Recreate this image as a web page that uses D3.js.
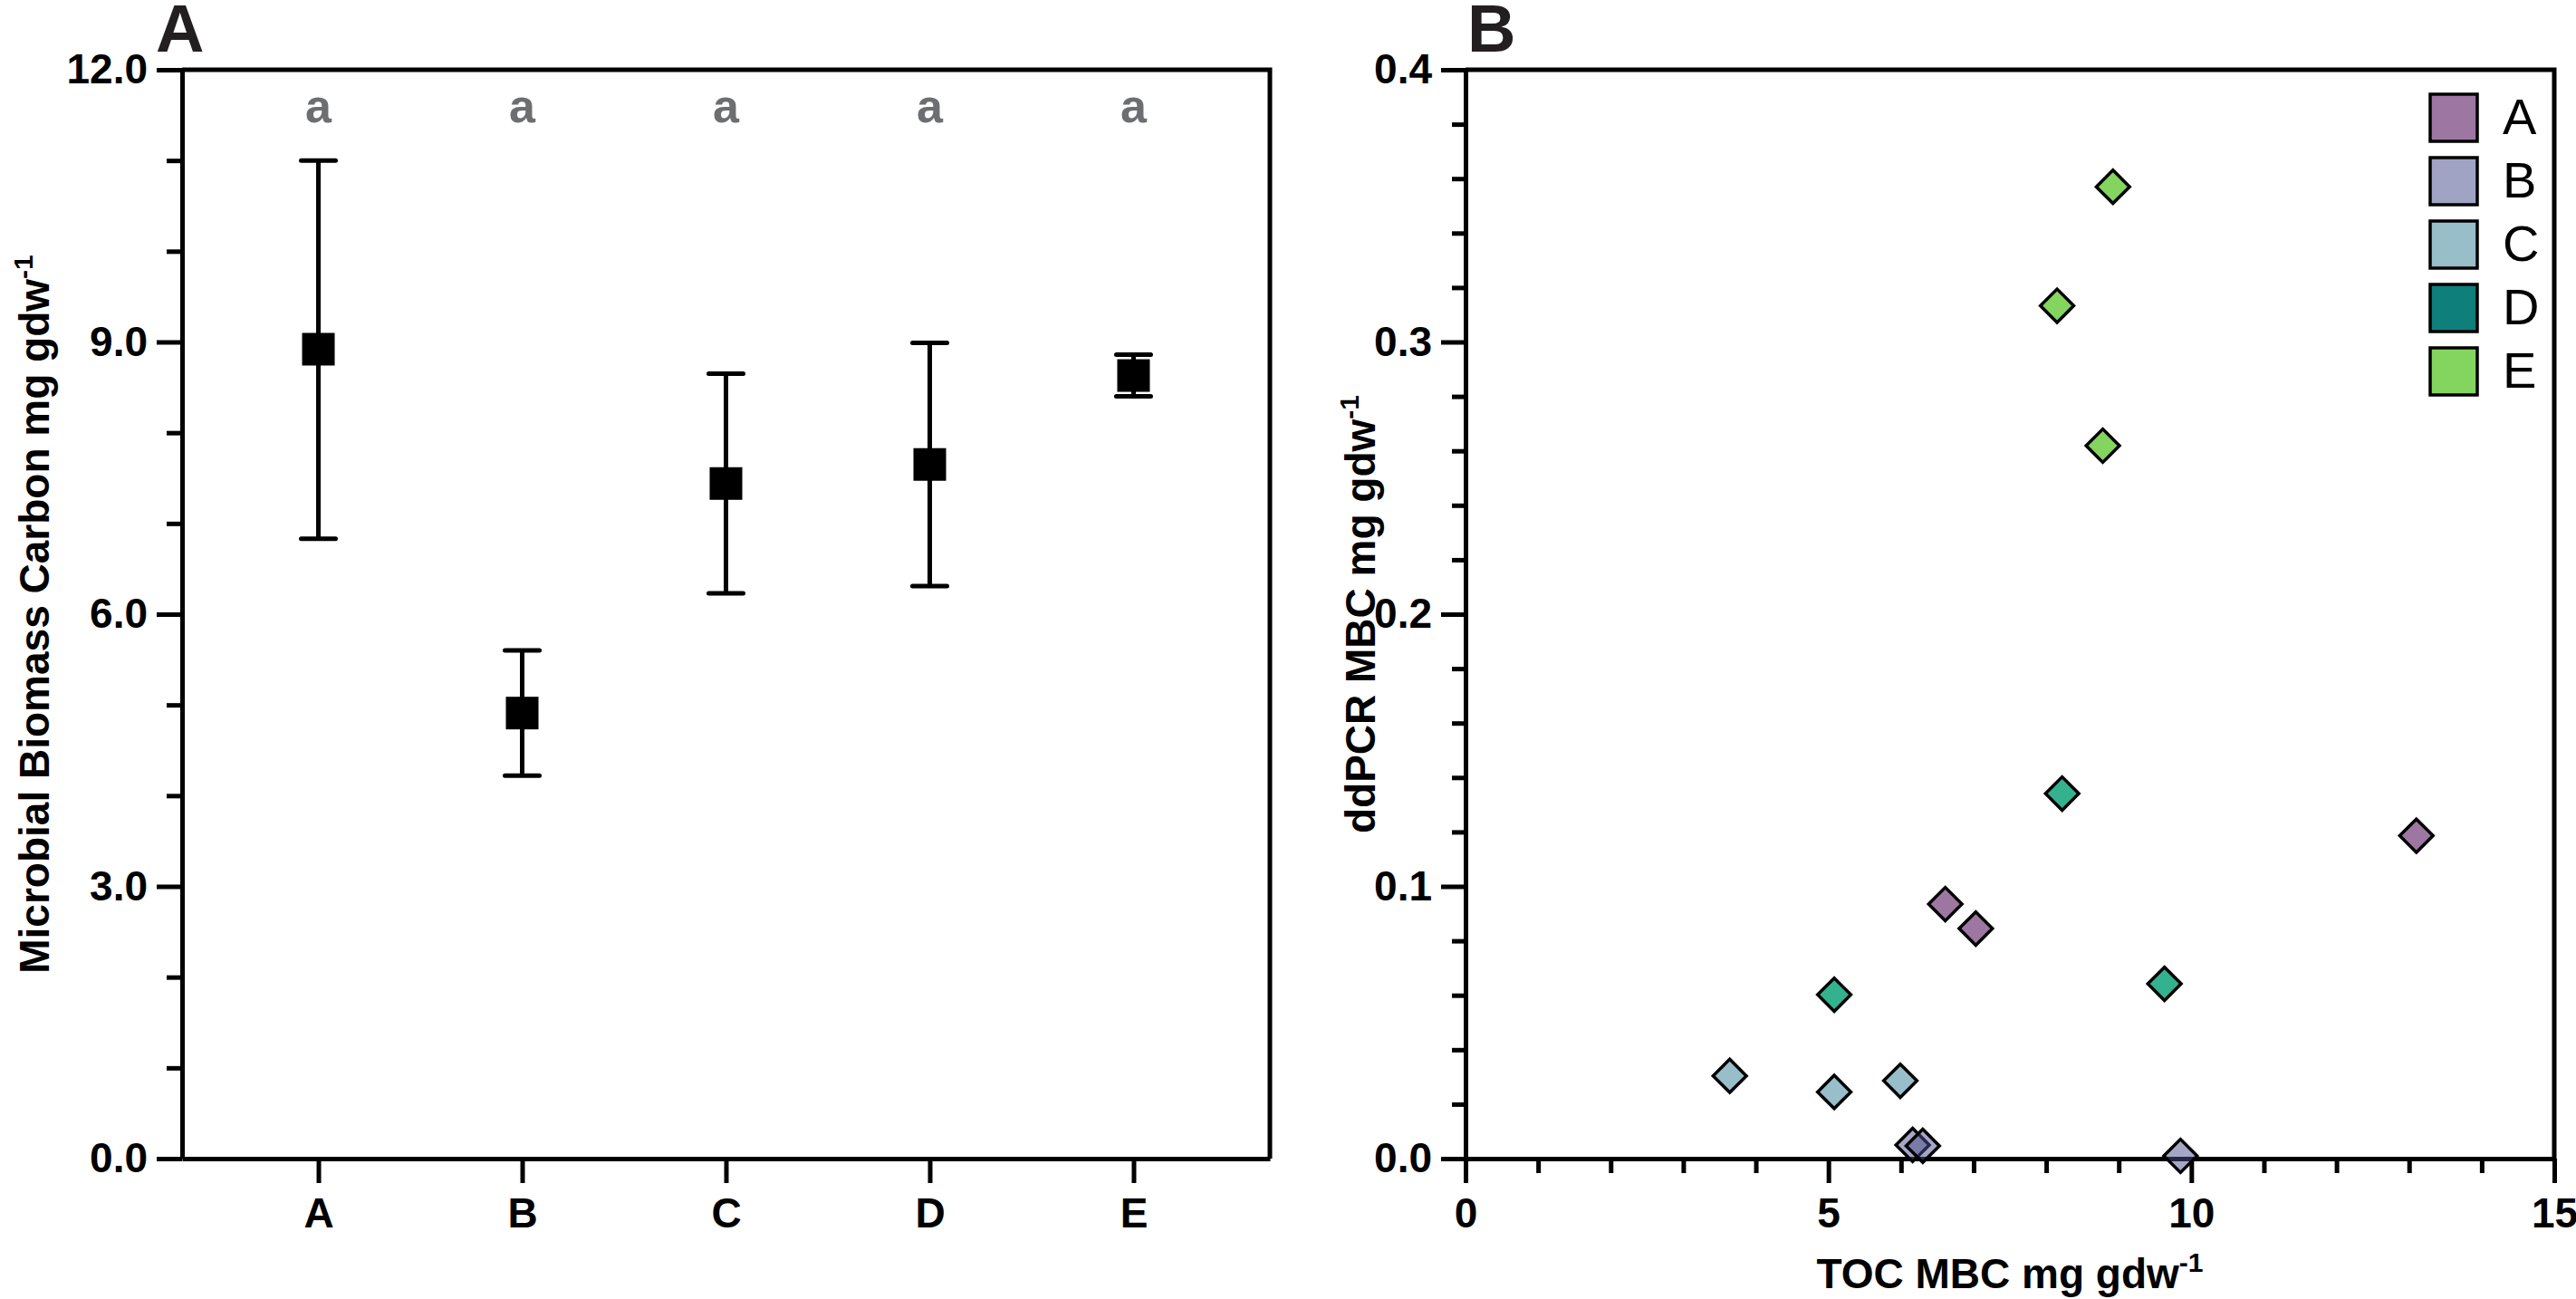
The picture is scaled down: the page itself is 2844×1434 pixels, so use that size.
<!DOCTYPE html>
<html lang="en">
<head>
	<title>Microbial Biomass Carbon</title>
	<script src="https://d3js.org/d3.v7.min.js" charset="utf-8"></script>
	<style>
		body {
		    margin: 0;
		    background: #fff;
		    font-family: "Liberation Sans", Arial, Helvetica, sans-serif;
		}
		.axis path, .axis line {
		    stroke: #000;
		    stroke-width: 5;
		}
		.axis text {
		    font-size: 46px;
		    font-weight: bold;
		    fill: #000;
		    font-family: "Liberation Sans", Arial, sans-serif;
		}
		.title {
		    font-size: 46px;
		    font-weight: bold;
		}
		.panel {
		    font-size: 74px;
		    font-weight: bold;
		    fill: #231f20;
		}
	</style>
</head>
<body>
	<script>
		// Panel A: mean and error bar limits per site
		var sites = ["A", "B", "C", "D", "E"];
		var mbcMean = [8.92, 4.91, 7.44, 7.65, 8.63];
		var mbcHigh = [11.0, 5.60, 8.65, 8.99, 8.86];
		var mbcLow  = [6.83, 4.22, 6.23, 6.31, 8.40];
		var letters = ["a", "a", "a", "a", "a"];
		var yTicksA = [0, 3, 6, 9, 12];

		// Panel B: TOC MBC (x) vs ddPCR MBC (y), by site
		var pointSite = ["A", "A", "A", "B", "B", "B", "C", "C", "C", "D", "D", "D", "E", "E", "E"];
		var tocMBC    = [6.61, 7.03, 13.10, 6.16, 6.30, 9.85, 3.64, 5.08, 5.99, 8.22, 5.08, 9.63, 8.92, 8.15, 8.78];
		var ddpcrMBC  = [0.0935, 0.0845, 0.1186, 0.0050, 0.0047, 0.0010, 0.0304, 0.0245, 0.0286, 0.1341, 0.0602, 0.0642, 0.357, 0.3133, 0.2619];
		var xTicksB = [0, 5, 10, 15];
		var yTicksB = [0, 0.1, 0.2, 0.3, 0.4];

		var legendColor = {A: "#9d77a2", B: "#a0a3c4", C: "#98bec9", D: "#0e7f7b", E: "#84d55f"};
		var pointColor  = {A: "#9d77a2", B: "#4b508c", C: "#98bec9", D: "#34b28f", E: "#84d55f"};
		var pointOpacity = {A: 1, B: 0.5, C: 1, D: 1, E: 1};

		var width = 2844;
		var height = 1434;

		var svg = d3.select("body")
		    .append("svg")
		    .attr("width", width)
		    .attr("height", height);

		var plotTop = 77, plotBottom = 1279;

		// ---------- Panel A ----------
		var ax0 = 201, ax1 = 1402;

		var xA = d3.scalePoint()
		    .domain(sites)
		    .range([ax0, ax1])
		    .padding(0.669);

		var yA = d3.scaleLinear()
		    .domain([0, 12])
		    .range([plotBottom, plotTop]);

		var gA = svg.append("g");

		// minor ticks
		gA.append("g")
		    .attr("class", "axis")
		    .attr("transform", "translate(" + ax0 + ",0)")
		    .call(d3.axisLeft(yA).tickValues(d3.range(1, 12).filter(function(v){ return v % 3 != 0; })).tickSize(17).tickFormat(""))
		    .select(".domain").remove();

		gA.append("g")
		    .attr("class", "axis")
		    .attr("transform", "translate(" + ax0 + ",0)")
		    .call(d3.axisLeft(yA).tickValues(yTicksA).tickSize(28).tickPadding(10).tickSizeOuter(0).tickFormat(d3.format(".1f")));

		gA.append("g")
		    .attr("class", "axis")
		    .attr("transform", "translate(0," + plotBottom + ")")
		    .call(d3.axisBottom(xA).tickSize(27).tickPadding(16).tickSizeOuter(0));

		// frame top + right
		gA.append("path")
		    .attr("d", "M" + ax0 + "," + plotTop + "H" + ax1 + "V" + plotBottom)
		    .attr("fill", "none")
		    .attr("stroke", "#000")
		    .attr("stroke-width", 5);

		// error bars
		var capW = 38;
		gA.selectAll(".err")
		    .data(sites)
		    .enter()
		    .append("path")
		    .attr("class", "err")
		    .attr("d", function(d, i) {
		        var x = xA(d);
		        return "M" + x + "," + yA(mbcLow[i]) + "V" + yA(mbcHigh[i]) +
		            "M" + (x - capW / 2) + "," + yA(mbcHigh[i]) + "H" + (x + capW / 2) +
		            "M" + (x - capW / 2) + "," + yA(mbcLow[i]) + "H" + (x + capW / 2);
		    })
		    .attr("fill", "none")
		    .attr("stroke", "#000")
		    .attr("stroke-width", 5)
		    .attr("stroke-linecap", "round");

		var sq = 36;
		gA.selectAll(".mean")
		    .data(sites)
		    .enter()
		    .append("rect")
		    .attr("class", "mean")
		    .attr("x", function(d) { return xA(d) - sq / 2; })
		    .attr("y", function(d, i) { return yA(mbcMean[i]) - sq / 2; })
		    .attr("width", sq)
		    .attr("height", sq)
		    .attr("fill", "#000");

		gA.selectAll(".letter")
		    .data(sites)
		    .enter()
		    .append("text")
		    .attr("class", "letter")
		    .attr("x", function(d) { return xA(d); })
		    .attr("y", 135)
		    .attr("text-anchor", "middle")
		    .attr("font-size", 52)
		    .attr("font-weight", "bold")
		    .attr("fill", "#6d6e71")
		    .text(function(d, i) { return letters[i]; });

		var titleA = gA.append("text")
		    .attr("class", "title")
		    .attr("transform", "translate(54," + ((plotTop + plotBottom) / 2) + ") rotate(-90)")
		    .attr("text-anchor", "middle");
		titleA.append("tspan").text("Microbial Biomass Carbon mg gdw");
		titleA.append("tspan").attr("font-size", 30).attr("dy", -18).text("-1");

		gA.append("text")
		    .attr("class", "panel")
		    .attr("x", 172)
		    .attr("y", 57)
		    .text("A");

		// ---------- Panel B ----------
		var bx0 = 1618, bx1 = 2820;

		var xB = d3.scaleLinear()
		    .domain([0, 15])
		    .range([bx0, bx1]);

		var yB = d3.scaleLinear()
		    .domain([0, 0.4])
		    .range([plotBottom, plotTop]);

		var gB = svg.append("g");

		gB.append("g")
		    .attr("class", "axis")
		    .attr("transform", "translate(" + bx0 + ",0)")
		    .call(d3.axisLeft(yB).tickValues(d3.range(1, 20).filter(function(v){ return v % 5 != 0; }).map(function(v){ return v * 0.02; })).tickSize(15).tickFormat(""))
		    .select(".domain").remove();

		gB.append("g")
		    .attr("class", "axis")
		    .attr("transform", "translate(0," + plotBottom + ")")
		    .call(d3.axisBottom(xB).tickValues(d3.range(1, 15).filter(function(v){ return v % 5 != 0; })).tickSize(16).tickFormat(""))
		    .select(".domain").remove();

		gB.append("g")
		    .attr("class", "axis")
		    .attr("transform", "translate(" + bx0 + ",0)")
		    .call(d3.axisLeft(yB).tickValues(yTicksB).tickSize(27).tickPadding(10).tickSizeOuter(0).tickFormat(d3.format(".1f")));

		gB.append("g")
		    .attr("class", "axis")
		    .attr("transform", "translate(0," + plotBottom + ")")
		    .call(d3.axisBottom(xB).tickValues(xTicksB).tickSize(27).tickPadding(16).tickSizeOuter(0).tickFormat(d3.format("d")));

		gB.append("path")
		    .attr("d", "M" + bx0 + "," + plotTop + "H" + bx1 + "V" + plotBottom)
		    .attr("fill", "none")
		    .attr("stroke", "#000")
		    .attr("stroke-width", 5);

		var diamond = d3.symbol().type(d3.symbolSquare).size(26 * 26);

		gB.selectAll(".pt")
		    .data(tocMBC)
		    .enter()
		    .append("path")
		    .attr("class", "pt")
		    .attr("d", diamond)
		    .attr("transform", function(d, i) {
		        return "translate(" + xB(d) + "," + yB(ddpcrMBC[i]) + ") rotate(45)";
		    })
		    .attr("fill", function(d, i) { return pointColor[pointSite[i]]; })
		    .attr("fill-opacity", function(d, i) { return pointOpacity[pointSite[i]]; })
		    .attr("stroke", "#000")
		    .attr("stroke-width", 3.5);

		// legend
		var legend = gB.selectAll(".leg")
		    .data(sites)
		    .enter()
		    .append("g")
		    .attr("class", "leg")
		    .attr("transform", function(d, i) { return "translate(2683," + (104 + i * 70) + ")"; });

		legend.append("rect")
		    .attr("width", 52)
		    .attr("height", 52)
		    .attr("fill", function(d) { return legendColor[d]; })
		    .attr("stroke", "#000")
		    .attr("stroke-width", 3.5);

		legend.append("text")
		    .attr("x", 80)
		    .attr("y", 44)
		    .attr("font-size", 56)
		    .attr("fill", "#000")
		    .text(function(d) { return d; });

		var titleBy = gB.append("text")
		    .attr("class", "title")
		    .attr("transform", "translate(1518," + ((plotTop + plotBottom) / 2) + ") rotate(-90)")
		    .attr("text-anchor", "middle");
		titleBy.append("tspan").text("ddPCR MBC mg gdw");
		titleBy.append("tspan").attr("font-size", 30).attr("dy", -18).text("-1");

		var titleBx = gB.append("text")
		    .attr("class", "title")
		    .attr("x", (bx0 + bx1) / 2)
		    .attr("y", 1422)
		    .attr("text-anchor", "middle");
		titleBx.append("tspan").text("TOC MBC mg gdw");
		titleBx.append("tspan").attr("font-size", 30).attr("dy", -18).text("-1");

		gB.append("text")
		    .attr("class", "panel")
		    .attr("x", 1620)
		    .attr("y", 57)
		    .text("B");
	</script>
</body>
</html>
